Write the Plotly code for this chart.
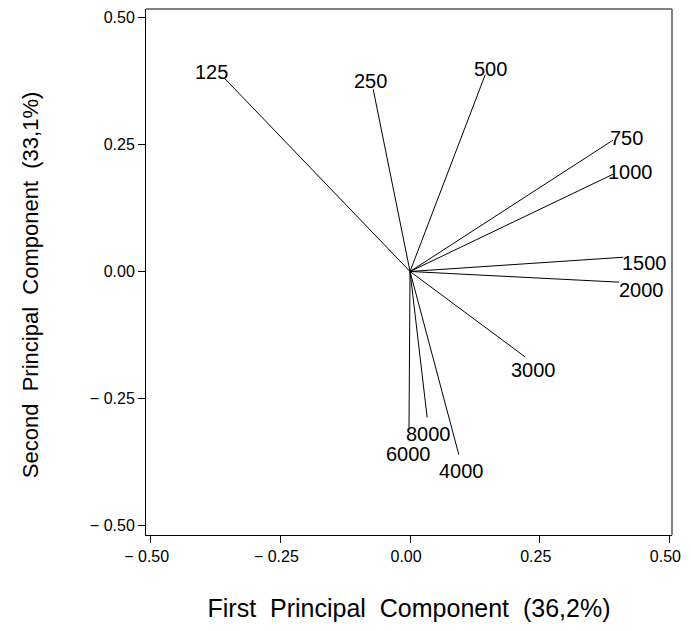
import plotly.graph_objects as go

# Loadings (PC1, PC2) for each frequency
freq_labels = ["125", "250", "500", "750", "1000", "1500", "2000", "3000", "4000", "6000", "8000"]
pc1 = [-0.357, -0.071, 0.145, 0.391, 0.391, 0.411, 0.403, 0.222, 0.094, -0.002, 0.033]
pc2 = [0.379, 0.358, 0.387, 0.258, 0.191, 0.028, -0.021, -0.168, -0.360, -0.307, -0.287]

tick_vals = [-0.5, -0.25, 0.0, 0.25, 0.5]
tick_text = ["\u2212 0.50", "\u2212 0.25", "0.00", "0.25", "0.50"]

x_title = "First  Principal  Component  (36,2%)"
y_title = "Second  Principal  Component  (33,1%)"

# label offsets in pixels (style)
label_dx = [-13, -3, 5, 14, 18, 21, 22, 8, 3, -1, 1]
label_dy = [7, 8, 6, 2, 2, -6, -8, -13, -16, -26, -17]

FONT = "Liberation Sans, Arial, sans-serif"

xs, ys = [], []
for a, b in zip(pc1, pc2):
    xs += [0, a, None]
    ys += [0, b, None]

fig = go.Figure()
fig.add_trace(go.Scatter(x=xs, y=ys, mode="lines",
                         line=dict(color="black", width=1),
                         hoverinfo="skip", showlegend=False))

for lab, a, b, dx, dy in zip(freq_labels, pc1, pc2, label_dx, label_dy):
    fig.add_annotation(x=a, y=b, text=lab, showarrow=False,
                       xshift=dx, yshift=dy,
                       font=dict(family=FONT, size=20, color="black"))

# y-axis title as annotation (slightly below axis centre, as in the reference)
fig.add_annotation(xref="paper", yref="paper", x=0, y=0.475, text=y_title,
                   textangle=-90, showarrow=False, xanchor="center", yanchor="middle",
                   xshift=-116, font=dict(family=FONT, size=22, color="black"))

fig.add_shape(type="line", xref="paper", yref="paper", x0=0, x1=1, y0=1, y1=1,
              line=dict(color="#808080", width=2))
fig.add_shape(type="line", xref="paper", yref="paper", x0=1, x1=1, y0=0, y1=1,
              line=dict(color="#808080", width=2))

fig.update_layout(
    width=691, height=615,
    margin=dict(l=138, r=27, t=1, b=88, autoexpand=False),
    plot_bgcolor="white", paper_bgcolor="white",
    font=dict(family=FONT, color="black"),
    showlegend=False,
)
fig.update_xaxes(range=[-0.509, 0.505], showgrid=False, zeroline=False,
                 automargin=False, ticklabeloverflow="allow", ticklabelshift=-4,
                 showline=True, linecolor="black", linewidth=1,
                 ticks="outside", ticklen=7, tickcolor="black", tickwidth=1,
                 tickvals=tick_vals, ticktext=tick_text,
                 tickfont=dict(family=FONT, size=16, color="black"),
                 title=dict(text=x_title,
                            font=dict(family=FONT, size=25, color="black"),
                            standoff=35))
fig.update_yaxes(range=[-0.518, 0.516], showgrid=False, zeroline=False,
                 automargin=False, ticklabeloverflow="allow",
                 showline=True, linecolor="black", linewidth=1,
                 ticks="outside", ticklen=7, tickcolor="black", tickwidth=1,
                 tickvals=tick_vals, ticktext=tick_text,
                 tickfont=dict(family=FONT, size=16, color="black"))

fig.write_html("out.html")
